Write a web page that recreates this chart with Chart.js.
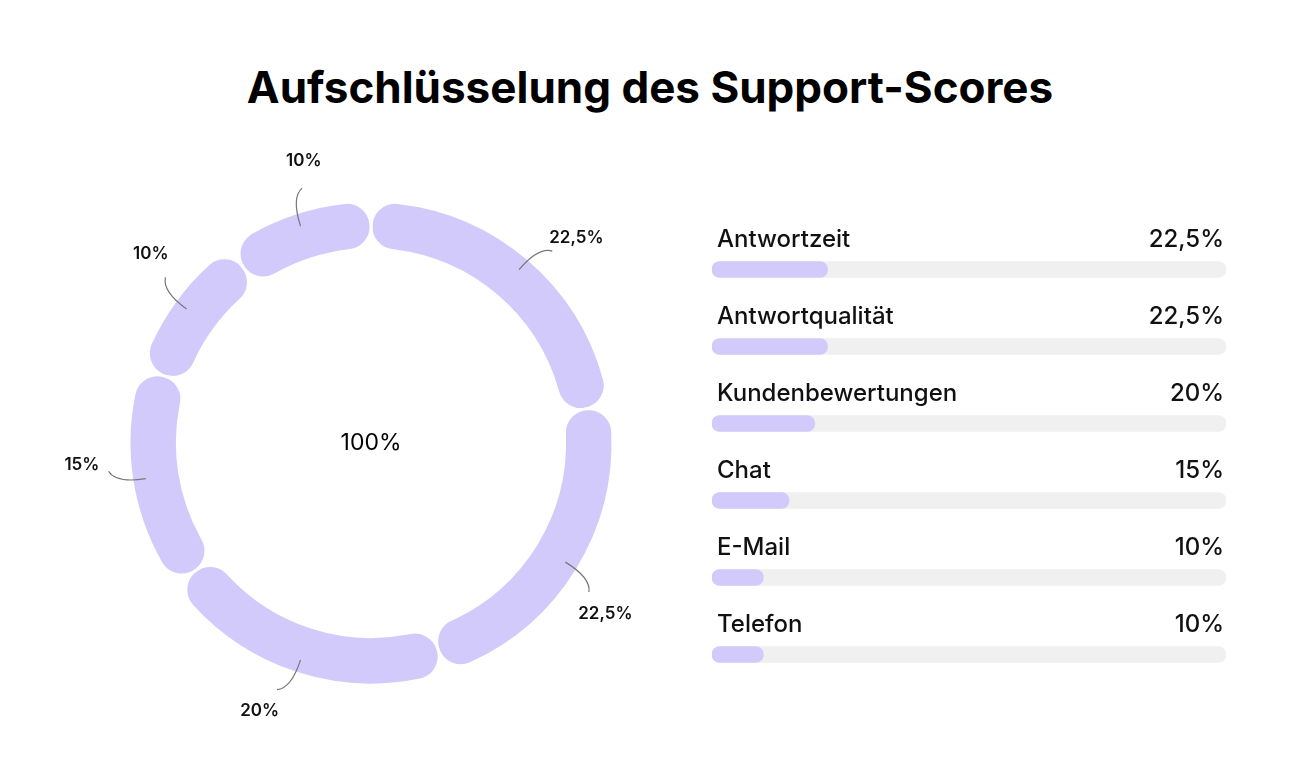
<!DOCTYPE html>
<html>
<head>
<meta charset="utf-8">
<script src="https://cdn.jsdelivr.net/npm/chart.js@4"></script>
<style>
  body { margin: 0; width: 1300px; height: 771px; background: #fff; position: relative; overflow: hidden; font-family: Inter, sans-serif; }
  h1 { position: absolute; top: 60px; left: 0; width: 1300px; margin: 0; text-align: center; font-size: 44px; font-weight: 700; color: #000; }
  #ring { position: absolute; left: 0; top: 130px; }
  #bars { position: absolute; left: 700px; top: 201px; }
</style>
</head>
<body>
<h1>Aufschlüsselung des Support-Scores</h1>
<canvas id="ring" width="742" height="626"></canvas>
<canvas id="bars" width="540" height="492"></canvas>
<script>
'use strict';

let categories = ['Antwortzeit', 'Antwortqualität', 'Kundenbewertungen', 'Chat', 'E-Mail', 'Telefon'];
let scores = [22.5, 22.5, 20, 15, 10, 10];
let scoreLabels = ['22,5%', '22,5%', '20%', '15%', '10%', '10%'];
let track = [100, 100, 100, 100, 100, 100];

let lavender = '#d3cafc';

// leader lines + percent labels around the ring
let ringLabels = {
  id: 'ringLabels',
  afterDraw(chart) {
    let ctx = chart.ctx;
    let arcs = chart.getDatasetMeta(0).data;
    ctx.save();
    arcs.forEach((arc, i) => {
      let a = (arc.startAngle + arc.endAngle) / 2;
      let cx = arc.x, cy = arc.y;
      let x1 = cx + Math.cos(a) * 228, y1 = cy + Math.sin(a) * 228;
      let x2 = cx + Math.cos(a + 0.05) * 264, y2 = cy + Math.sin(a + 0.05) * 264;
      let qx = cx + Math.cos(a) * 258, qy = cy + Math.sin(a) * 258;
      ctx.strokeStyle = '#777';
      ctx.lineWidth = 1.2;
      ctx.beginPath();
      ctx.moveTo(x1, y1);
      ctx.quadraticCurveTo(qx, qy, x2, y2);
      ctx.stroke();
      let tx = cx + Math.cos(a + 0.08) * 290, ty = cy + Math.sin(a + 0.08) * 290;
      ctx.fillStyle = '#111';
      ctx.font = '600 17px Inter';
      ctx.textAlign = 'center';
      ctx.textBaseline = 'middle';
      ctx.fillText(scoreLabels[i], tx, ty);
    });
    ctx.font = '400 23px Inter';
    ctx.fillStyle = '#000';
    ctx.fillText('100%', arcs[0].x, arcs[0].y);
    ctx.restore();
  }
};

new Chart(document.getElementById('ring'), {
  type: 'doughnut',
  data: {
    labels: categories,
    datasets: [{
      data: scores,
      backgroundColor: lavender,
      borderColor: '#fff',
      borderWidth: 3,
      borderRadius: 24
    }]
  },
  options: {
    responsive: false,
    animation: false,
    radius: 242,
    cutout: '80%',
    plugins: { legend: { display: false }, tooltip: { enabled: false } }
  },
  plugins: [ringLabels]
});

// names and values above each bar
let barLabels = {
  id: 'barLabels',
  afterDraw(chart) {
    let ctx = chart.ctx;
    let bars = chart.getDatasetMeta(1).data;
    let area = chart.chartArea;
    ctx.save();
    ctx.font = '500 24px Inter';
    ctx.fillStyle = '#111';
    ctx.textBaseline = 'middle';
    bars.forEach((bar, i) => {
      ctx.textAlign = 'left';
      ctx.fillText(categories[i], area.left + 5, bar.y - 30);
      ctx.textAlign = 'right';
      ctx.fillText(scoreLabels[i], area.right - 2, bar.y - 30);
    });
    ctx.restore();
  }
};

new Chart(document.getElementById('bars'), {
  type: 'bar',
  data: {
    labels: categories,
    datasets: [
      { data: scores, backgroundColor: lavender, barThickness: 16, borderRadius: 8, borderSkipped: false, grouped: false, order: 0 },
      { data: track, backgroundColor: '#f0f0f0', barThickness: 16, borderRadius: 8, borderSkipped: false, grouped: false, order: 1 }
    ]
  },
  options: {
    indexAxis: 'y',
    responsive: false,
    animation: false,
    layout: { padding: { top: 30, left: 12, right: 14, bottom: 0 } },
    scales: {
      x: { display: false, min: 0, max: 100 },
      y: { display: false }
    },
    plugins: { legend: { display: false }, tooltip: { enabled: false } }
  },
  plugins: [barLabels]
});
</script>
</body>
</html>
